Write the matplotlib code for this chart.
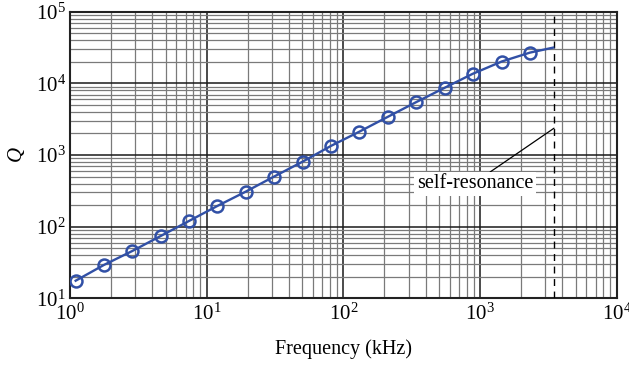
import numpy as np
import matplotlib
matplotlib.use('Agg')
from matplotlib import pyplot as plt
from matplotlib.ticker import LogLocator, FuncFormatter, NullFormatter

plt.rcParams['font.family'] = ['Liberation Serif', 'DejaVu Serif']
plt.rcParams['mathtext.fontset'] = 'custom'
plt.rcParams['mathtext.rm'] = 'Liberation Serif'
plt.rcParams['mathtext.it'] = 'Liberation Serif:italic'

# measured Q vs frequency (kHz)
freq = [1.10, 1.77, 2.86, 4.61, 7.42, 12.0, 19.3, 31.1, 50.4, 81.1,
        131, 213, 340, 554, 883, 1440, 2317]
Q = [17.6, 29.2, 45.8, 74.1, 120, 195, 308, 500, 809, 1340,
     2120, 3440, 5460, 8730, 13600, 20200, 26900]
# curve continues up to the self-resonance
freq_end = 3430
Q_end = 31600
f_selfres = 3480

blue = '#3150a6'

fig = plt.figure(figsize=(6.29, 3.66), dpi=100)
ax = fig.add_axes([0.1113, 0.185, 0.9804 - 0.1113, 0.9678 - 0.185])

ax.plot(freq + [freq_end], Q + [Q_end], color=blue, lw=1.7, zorder=5)
ax.plot(freq, Q, ls='none', marker='o', ms=8.6, mfc='none', mec=blue, mew=1.8, zorder=6)

ax.axvline(f_selfres, color='black', lw=1.0, ls=(0, (5, 4)), zorder=4)

ax.annotate('self-resonance', xy=(f_selfres, 2370), xytext=(918, 395),
            fontsize=14.5, ha='center', va='center',
            bbox=dict(boxstyle='square,pad=0.12', fc='white', ec='none'),
            arrowprops=dict(arrowstyle='-', color='black', lw=0.9,
                            relpos=(0.6, 1.0), shrinkA=0, shrinkB=0),
            zorder=7)

ax.set_xscale('log')
ax.set_yscale('log')
ax.set_xlim(1, 1e4)
ax.set_ylim(10, 1e5)

for axis in (ax.xaxis, ax.yaxis):
    axis.set_major_locator(LogLocator(base=10, numticks=10))
    axis.set_minor_locator(LogLocator(base=10, subs=np.arange(2, 10), numticks=10))
    axis.set_major_formatter(FuncFormatter(lambda v, p: r'$10^{%d}$' % round(np.log10(v))))
    axis.set_minor_formatter(NullFormatter())

ax.grid(which='major', color='#1a1a1a', lw=1.1)
ax.grid(which='minor', color='#7a7a7a', lw=0.9)
ax.set_axisbelow(True)
ax.tick_params(which='both', length=0, labelsize=15)
ax.tick_params(axis='x', pad=4)
ax.tick_params(axis='y', pad=3)

for s in ax.spines.values():
    s.set_linewidth(1.5)
    s.set_color('#222222')

ax.set_xlabel('Frequency (kHz)', fontsize=14.5, labelpad=10)
ax.set_ylabel('$Q$', fontsize=15, labelpad=6)

fig.savefig('out.png', dpi=100)
